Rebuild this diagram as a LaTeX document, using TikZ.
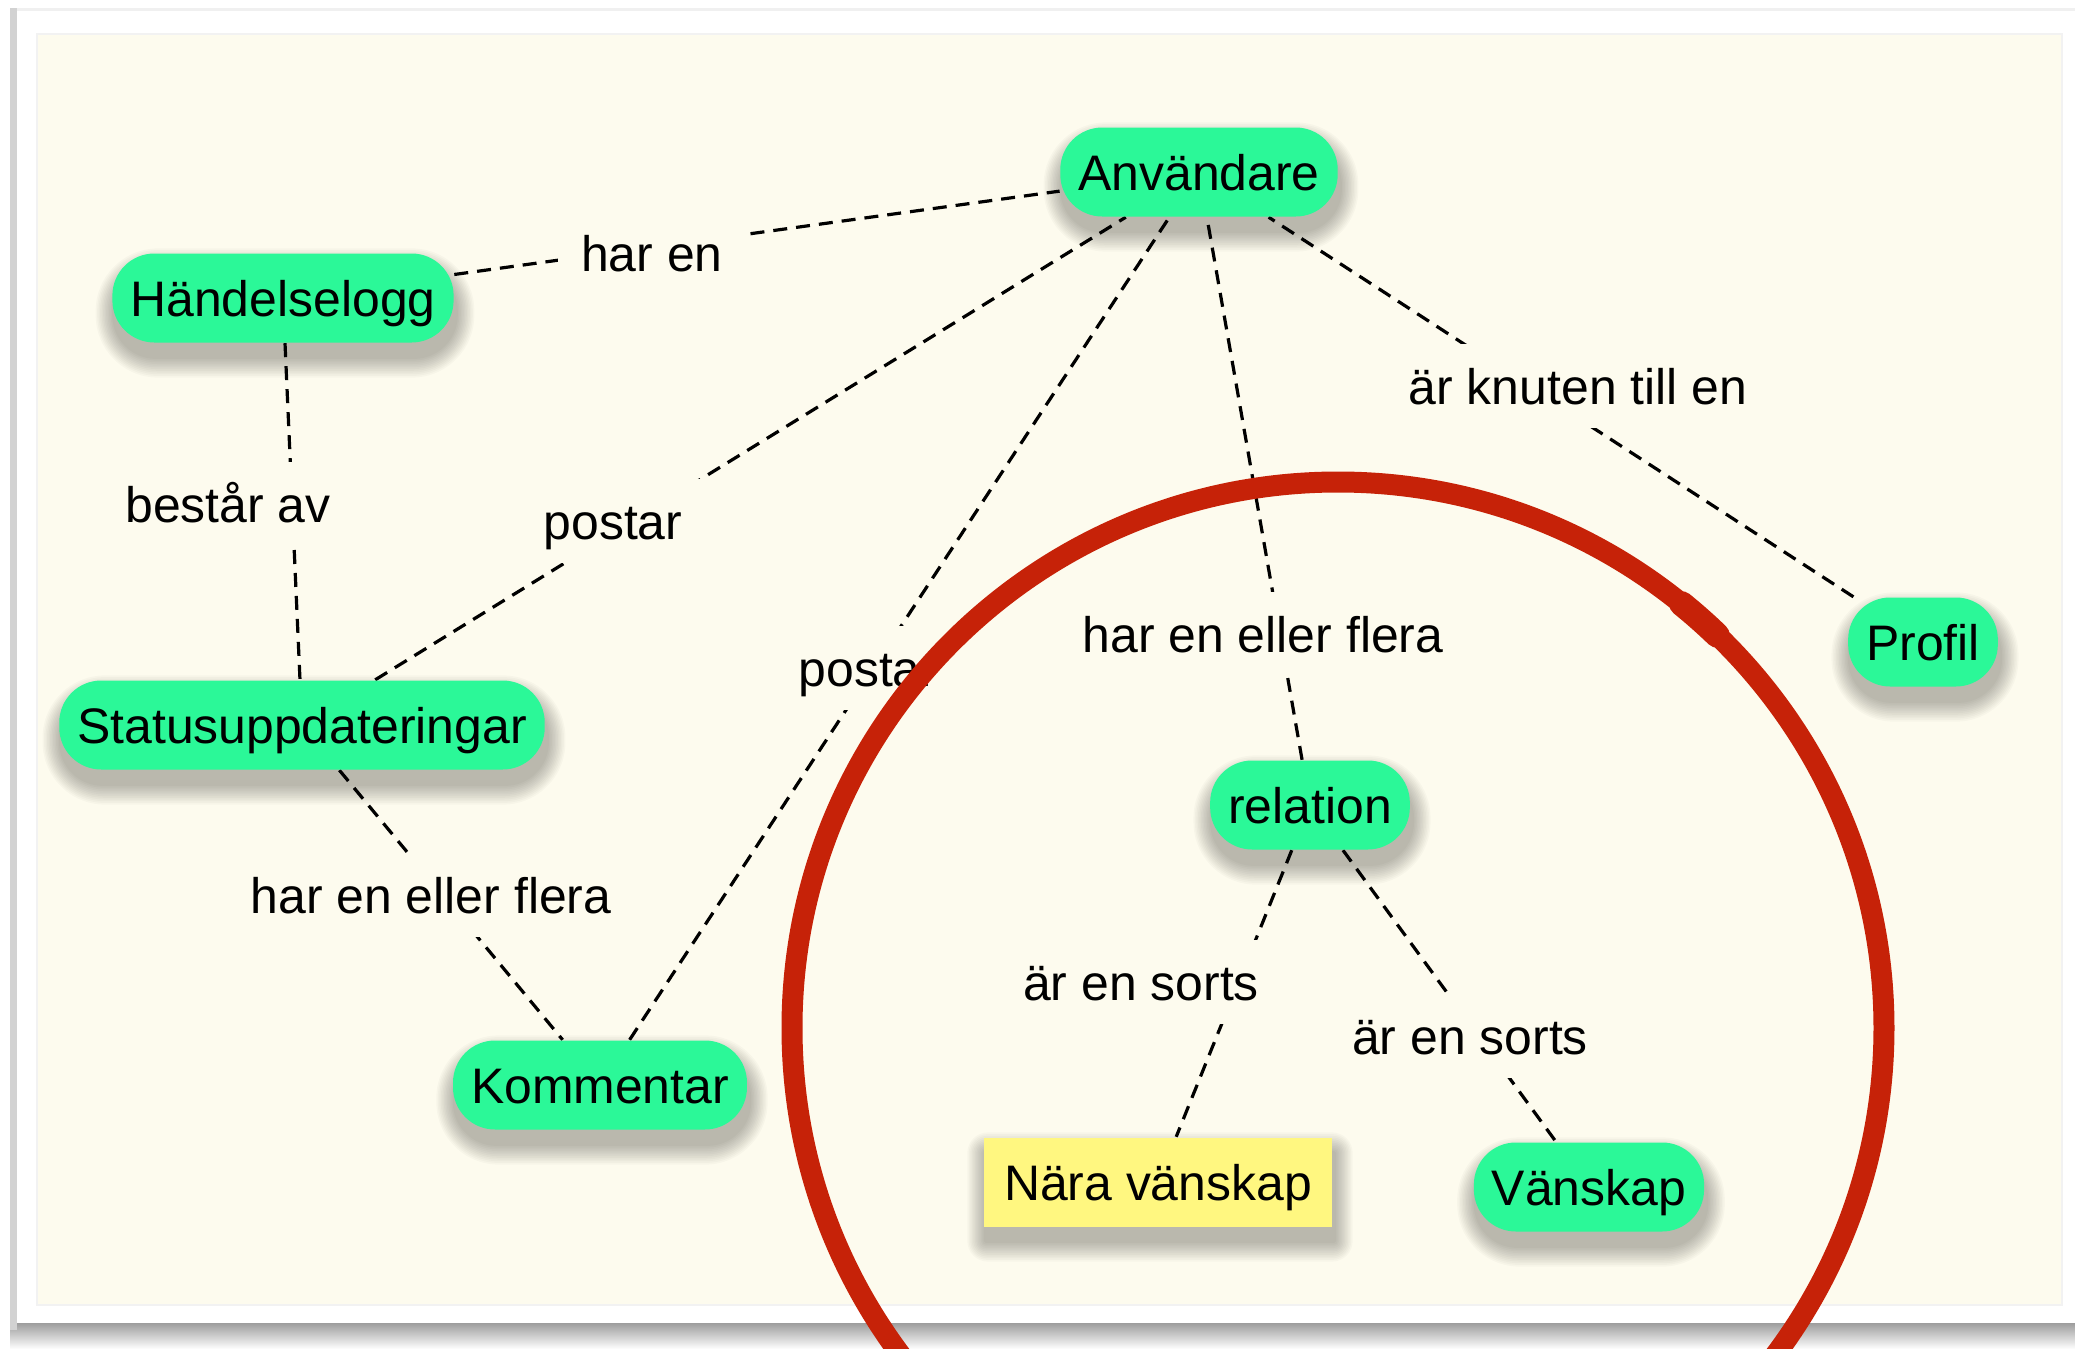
\documentclass[tikz,border=0pt]{standalone}
\usepackage{fontspec}
\setmainfont{Liberation Sans}

\definecolor{cream}{RGB}{253,251,238}
\definecolor{mint}{RGB}{43,248,152}
\definecolor{note}{RGB}{255,247,128}
\definecolor{marker}{RGB}{198,34,8}

% soft layered drop shadow under a node: #1 node name, #2 corner radius in mm
\newcommand\castshadow[2]{%
  \foreach \g in {1,...,12}{%
    \fill[black, opacity=0.022, rounded corners={#2mm+\g*0.17mm}]
      ([xshift=-\g*0.15mm+0.2mm, yshift=-1.4mm-\g*0.17mm]#1.south west)
      rectangle ([xshift=\g*0.15mm+0.2mm, yshift=-1.6mm+\g*0.17mm]#1.north east);
  }}

\begin{document}
\begin{tikzpicture}[x=0.1mm,y=-0.1mm,
  every node/.style={font=\fontsize{14.2pt}{17pt}\selectfont,
    text height=3.7mm, text depth=0.1mm},
  slot/.style={inner xsep=1.8mm, inner ysep=0pt, minimum height=8.9mm},
  concept/.style={slot, fill=mint, rounded corners=4.2mm},
  notebox/.style={slot, inner xsep=2mm, fill=note},
  link/.style={draw=black, line width=0.32mm, dash pattern=on 1.4mm off 0.9mm},
  linklabel/.style={fill=cream, inner sep=2.3mm},
  pen/.style={draw=marker, line width=2.1mm, line cap=round, line join=round},
]
\useasboundingbox (0,0) rectangle (2075,1349);
\clip (0,0) rectangle (2075,1349);

% sheet, its shadow and the canvas
\fill[white] (0,0) rectangle (2075,1349);
\shade[top color=gray!80, bottom color=white] (10,1322) rectangle (2075,1349);
\fill[gray!35] (10,8) rectangle (17,1330);
\fill[white] (17,8) rectangle (2075,1323);
\draw[gray!12, line width=0.3mm] (17,9) -- (2075,9);
\filldraw[fill=cream, draw=gray!10, line width=0.2mm] (37,34) rectangle (2062,1305);

% concept positions
\coordinate (pAnv)  at (1199,172);
\coordinate (pHand) at (283,298);
\coordinate (pStat) at (302,725);
\coordinate (pKom)  at (600,1085);
\coordinate (pRel)  at (1310,805);
\coordinate (pProf) at (1923,642);
\coordinate (pNara) at (1158,1182);
\coordinate (pVan)  at (1589,1187);

% empty slots of the concept boxes, so the links can be drawn first
\node[slot] (anv)  at (pAnv)  {\phantom{Användare}};
\node[slot] (hand) at (pHand) {\phantom{Händelselogg}};
\node[slot] (stat) at (pStat) {\phantom{Statusuppdateringar}};
\node[slot] (kom)  at (pKom)  {\phantom{Kommentar}};
\node[slot] (rel)  at (pRel)  {\phantom{relation}};
\node[slot] (prof) at (pProf) {\phantom{Profil}};
\node[slot, inner xsep=2mm] (nara) at (pNara) {\phantom{Nära vänskap}};
\node[slot] (van)  at (pVan)  {\phantom{Vänskap}};

% links
\draw[link] (hand) -- (anv);
\draw[link] (stat) -- (anv);
\draw[link] (kom)  -- (anv);
\draw[link] (rel)  -- (anv);
\draw[link] (prof) -- (anv);
\draw[link] (hand) -- (stat);
\draw[link] (stat) -- (kom);
\draw[link] (rel)  -- (nara);
\draw[link] (rel)  -- (van);

% link labels
\node[linklabel] (l1) at (652,253)  {har en};
\node[linklabel] (l2) at (228,504)  {består av};
\node[linklabel] (l3) at (613,521)  {postar};
\node[linklabel] (l4) at (868,668)  {postar};
\node[linklabel] (l5) at (1578,386) {är knuten till en};
\node[linklabel] (l6) at (1263,634) {har en eller flera};
\node[linklabel] (l7) at (431,895)  {har en eller flera};
\node[linklabel] (l8) at (1141,982) {är en sorts};
\node[linklabel] (l9) at (1470,1036) {är en sorts};

% shadows
\castshadow{anv}{4.2}
\castshadow{hand}{4.2}
\castshadow{stat}{4.2}
\castshadow{kom}{4.2}
\castshadow{rel}{4.2}
\castshadow{prof}{4.2}
\castshadow{nara}{0}
\castshadow{van}{4.2}

% concept boxes
\node[concept] (anvBox)  at (pAnv)  {Användare};
\node[concept] (handBox) at (pHand) {Händelselogg};
\node[concept] (statBox) at (pStat) {Statusuppdateringar};
\node[concept] (komBox)  at (pKom)  {Kommentar};
\node[concept] (relBox)  at (pRel)  {relation};
\node[concept] (profBox) at (pProf) {Profil};
\node[notebox] (naraBox) at (pNara) {Nära vänskap};
\node[concept] (vanBox)  at (pVan)  {Vänskap};

% hand-drawn red ring
\begin{scope}[shift={(1338,1028)}]
\draw[pen] (0,0) circle[radius=546];
\draw[pen, line width=2.5mm] (309:546) arc[start angle=309, end angle=314, radius=546];
\end{scope}
\end{tikzpicture}
\end{document}
